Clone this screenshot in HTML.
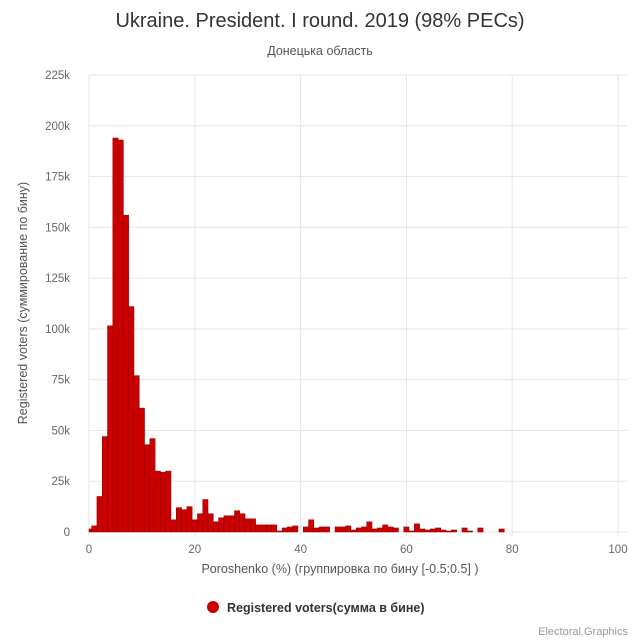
<!DOCTYPE html>
<html><head><meta charset="utf-8"><style>
html,body{margin:0;padding:0;background:#fff;}
svg{display:block;font-family:"Liberation Sans","DejaVu Sans",sans-serif;}
</style></head><body>
<svg id="s" width="640" height="640" xmlns="http://www.w3.org/2000/svg">
<rect width="640" height="640" fill="#fff"/>
<text x="320" y="27" text-anchor="middle" font-size="20" fill="#333">Ukraine. President. I round. 2019 (98% PECs)</text>
<text x="320" y="55" text-anchor="middle" font-size="12.5" fill="#555">Донецька область</text>
<g id="grid"></g>
<g id="bars"></g>
<text transform="translate(27,303) rotate(-90)" text-anchor="middle" font-size="12.5" fill="#555">Registered voters (суммирование по бину)</text>
<text x="340" y="573" text-anchor="middle" font-size="12.5" fill="#555">Poroshenko (%) (группировка по бину [-0.5;0.5] )</text>
<circle cx="213" cy="607" r="6" fill="#cc0000"/>
<text x="227" y="612" font-size="12.5" font-weight="bold" fill="#333">Registered voters(сумма в бине)</text>
<text x="628" y="635" text-anchor="end" font-size="11" fill="#999">Electoral.Graphics</text>
</svg>
<script>
var ns="http://www.w3.org/2000/svg",g=document.getElementById('grid'),b=document.getElementById('bars');
function X(v){return 89+v*5.29}function Y(k){return 532-k*2.031}
function el(p,t,a,txt){var e=document.createElementNS(ns,t);for(var k in a)e.setAttribute(k,a[k]);if(txt!=null)e.textContent=txt;p.appendChild(e);return e}
for(var i=0;i<=9;i++){var y=Y(i*25);el(g,'line',{x1:89,x2:628,y1:y,y2:y,stroke:'#e6e6e6'});
el(g,'text',{x:70,y:y+4,'text-anchor':'end','font-size':11.5,fill:'#666'},i==0?'0':(i*25)+'k');}
for(var i=0;i<=5;i++){var x=X(i*20);el(g,'line',{x1:x,x2:x,y1:75,y2:537,stroke:'#e6e6e6'});
el(g,'text',{x:x,y:553,'text-anchor':'middle','font-size':11.5,fill:'#666'},String(i*20));}
var d=[1.5,3,17.5,47,101.5,194,193,156,111,77,61,43,46,30,29.5,30,6,12,11,12.5,6,9,16,9,5,7,8,8,10.5,9,6.5,6.5,3.5,3.5,3.5,3.5,0.5,2,2.5,3,0,2.5,6,2,2.5,2.5,0,2.5,2.5,3,1,2,2.5,5,1.5,2,3.5,2.5,2,0,2.5,0.5,4,1.5,1,1.5,2,1,0.5,1,0,2,0.5,0,2,0,0,0,1.5];
for(var i=0;i<d.length;i++){if(!d[i])continue;var x0=Math.max(X(i-0.5),89),x1=X(i+0.5);
el(b,'rect',{x:x0,y:Y(d[i]),width:x1-x0,height:d[i]*2.031,fill:'#cc0000',stroke:'#8b0000','stroke-width':0.5});}
</script>
</body></html>
